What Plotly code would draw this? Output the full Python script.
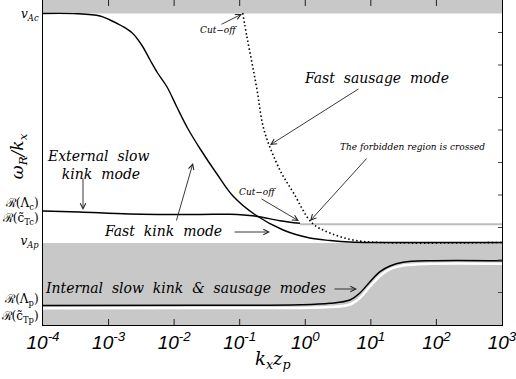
import plotly.graph_objects as go

# characteristic speeds (arbitrary units on the ordinate)
v_Ac = 311.5
v_Ap = 82.0
re_cTc = 100.7
v_top = 325
k_lim = [1e-4, 1000]

# fast kink mode (solid)
kink_k = [1e-4, 3.3e-4, 7.4e-4, 1.05e-3, 1.6e-3, 2.3e-3, 3.2e-3, 4.3e-3, 5.6e-3, 7.8e-3,
          1.1e-2, 1.6e-2, 2.5e-2, 4.5e-2, 7.9e-2, 0.17, 0.46, 1.17, 2.4, 4.8, 13.8, 1000]
kink_v = [311.5, 311.3, 309, 305, 299, 292, 280, 265, 252, 238,
          218, 197, 176, 151, 129, 110.5, 95, 87, 84.5, 83, 82.5, 82.5]

# external slow kink mode
ext_k = [1e-4, 3.6e-4, 2.1e-3, 2.5e-2, 7.1e-2, 0.17, 0.41, 0.83]
ext_v = [114, 113, 111, 110.5, 110.7, 109, 104.3, 101.7]

# fast sausage mode (dotted)
saus_k = [0.111, 0.129, 0.154, 0.184, 0.235, 0.41, 0.65, 1.27, 2.38, 5.35, 13.8, 1000]
saus_v = [312, 288, 262, 235, 195, 155, 133, 102, 92, 85, 82.5, 82.5]

# internal slow kink & sausage modes
int_k = [1e-4, 0.0245, 0.83, 2.38, 4.8, 6.8, 9.7, 13.8, 19.6, 30.9, 80, 1000]
int_v = [19.5, 19.7, 20.2, 21.7, 25, 32, 43.3, 53.3, 59, 62.7, 64.3, 64.3]
int2_v = [16.8, 16.9, 17.1, 17.9, 20.5, 27, 38.5, 49, 55.8, 59.5, 61.2, 61.2]

# tick labels / tick positions
ytick_vals = [311, 122, 107, 84, 26, 9]
ytick_text = ["<i>v</i><sub><i>Ac</i></sub>", "ℛ(Λ<sub>c</sub>)", "ℛ(c̃<sub>Tc</sub>)",
              "<i>v</i><sub><i>Ap</i></sub>", "ℛ(Λ<sub>p</sub>)", "ℛ(c̃<sub>Tp</sub>)"]
right_ticks = [32.5, 65, 97.5, 130, 162.5, 195, 227.5, 260, 292.5]
xtick_vals = [1e-4, 1e-3, 1e-2, 1e-1, 1, 10, 100, 1000]
xtick_text = ["10<sup>-4</sup>", "10<sup>-3</sup>", "10<sup>-2</sup>", "10<sup>-1</sup>",
              "10<sup>0</sup>", "10<sup>1</sup>", "10<sup>2</sup>", "10<sup>3</sup>"]

GRAY = "#c8c8c8"
TICK = 6  # tick length in ordinate units (1 unit ~ 1 px here)
fig = go.Figure()

# forbidden (shaded) regions
fig.add_trace(go.Scatter(x=k_lim + k_lim[::-1], y=[v_Ac, v_Ac, v_top, v_top], fill="toself",
                         fillcolor=GRAY, mode="none", hoverinfo="skip"))
fig.add_trace(go.Scatter(x=k_lim + k_lim[::-1], y=[0, 0, v_Ap, v_Ap], fill="toself",
                         fillcolor=GRAY, mode="none", hoverinfo="skip"))

fig.add_trace(go.Scatter(x=[ext_k[-1], 1000], y=[re_cTc, re_cTc], mode="lines",
                         line=dict(color="#bcbcbc", width=2)))
fig.add_trace(go.Scatter(x=int_k, y=int2_v, mode="lines", line=dict(color="white", width=2.5, shape="spline")))
fig.add_trace(go.Scatter(x=int_k, y=int_v, mode="lines", line=dict(color="black", width=1.5, shape="spline")))
fig.add_trace(go.Scatter(x=ext_k, y=ext_v, mode="lines", line=dict(color="black", width=1.5, shape="spline")))
fig.add_trace(go.Scatter(x=kink_k, y=kink_v, mode="lines", line=dict(color="black", width=1.4, shape="spline")))
fig.add_trace(go.Scatter(x=saus_k, y=saus_v, mode="lines",
                         line=dict(color="black", width=1.6, dash="1.5px,2.5px", shape="spline")))

# inside tick marks on bottom and top, drawn as short line segments
tx, ty = [], []
for t in xtick_vals[1:-1]:
    tx += [t, t, None, t, t, None]
    ty += [0, TICK, None, v_top, v_top - TICK, None]
fig.add_trace(go.Scatter(x=tx, y=ty, mode="lines", hoverinfo="skip",
                         line=dict(color="#222", width=1)))
# small ticks along the right edge
rx, ry = [], []
for v in right_ticks:
    rx += [k_lim[1] * 0.87, k_lim[1], None]
    ry += [v, v, None]
fig.add_trace(go.Scatter(x=rx, y=ry, mode="lines", hoverinfo="skip",
                         line=dict(color="#444", width=1)))

serif = dict(family="DejaVu Serif", style="italic", color="black")

def label(txt, x, y, size):
    fig.add_annotation(x=x, y=y, text=txt, showarrow=False,
                       font=dict(serif, size=size))

def arrow(x, y, ax, ay):
    fig.add_annotation(x=x, y=y, ax=ax, ay=ay, text="", showarrow=True,
                       arrowhead=5, arrowsize=1.2, arrowwidth=0.9, arrowcolor="#222")

label("Fast  sausage  mode", 1.08, 247, 14)
label("The forbidden region is crossed", 1.63, 178, 9)
label("Cut−off", -1.316, 295, 9)
label("Cut−off", -0.721, 133, 9)
label("External  slow<br> kink  mode", -3.146, 160, 14)
label("Fast  kink  mode", -2.17, 94, 14)
label("Internal  slow  kink  &  sausage  modes", -1.82, 37, 14)

arrow(-0.965, 311, -22, 11)
arrow(-0.538, 180, 90, -57)
arrow(0.072, 104, 58, -64)
arrow(-0.096, 104, -39, -23)
arrow(-3.39, 115, 0, -33)
arrow(-1.712, 162, -17, 59)
arrow(-0.538, 93, -37, 0)
arrow(0.789, 36, -24, 0)

fig.add_annotation(xref="paper", yref="paper", x=-0.054, y=0.52, xanchor="center",
                   text="ω<sub>R</sub>/<i>k</i><sub><i>x</i></sub>", textangle=-90,
                   showarrow=False, font=dict(serif, size=17))
fig.add_annotation(xref="paper", yref="paper", x=0.5, y=-0.108, yanchor="middle",
                   text="k<sub>x</sub>z<sub>p</sub>", showarrow=False,
                   font=dict(serif, size=18))

fig.update_layout(
    width=516, height=379,
    margin=dict(l=43, r=14, t=0, b=54),
    plot_bgcolor="white", paper_bgcolor="white",
    showlegend=False,
    xaxis=dict(type="log", range=[-4, 3.0005], tickmode="array", tickvals=xtick_vals,
               ticktext=xtick_text, ticks="", showgrid=False, zeroline=False,
               showline=True, linecolor="black", linewidth=1, mirror=True,
               tickfont=dict(family="Liberation Sans", style="italic", size=19, color="black"),
               ticklabeloverflow="allow", automargin=False),
    yaxis=dict(range=[0, 325], tickvals=ytick_vals, ticktext=ytick_text, ticks="",
               showgrid=False, zeroline=False, showline=True, linecolor="black",
               linewidth=1, mirror=True, ticklabelstandoff=1,
               tickfont=dict(family="DejaVu Serif", size=12, color="black"),
               automargin=False),
)

fig.write_html("out.html", post_script="document.body.style.margin='0';",
               config={"displayModeBar": False})
